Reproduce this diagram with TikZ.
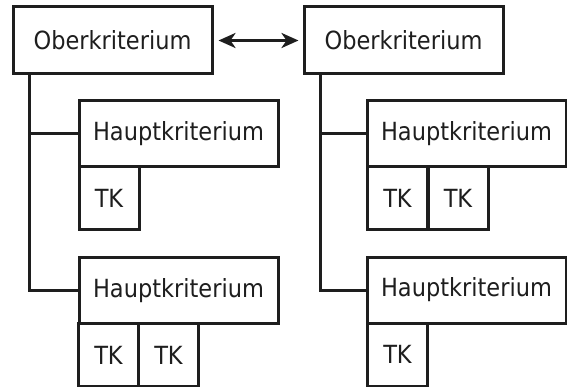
\documentclass[tikz,border=0pt]{standalone}
\usepackage{fontspec}
\setmainfont{DejaVu Sans Condensed}
\usetikzlibrary{arrows.meta}
\definecolor{ink}{HTML}{1E1E1E}
\begin{document}
\begin{tikzpicture}[x=1pt,y=-1pt,
  every node/.style={font=\fontsize{25}{30}\selectfont, text=ink},
  box/.style={draw=ink, line width=3pt, rectangle, inner sep=0pt, fill=white},
  ober/.style={box, minimum width=199pt, minimum height=67pt},
  haupt/.style={box, minimum width=199pt, minimum height=66pt},
  tk/.style={box, minimum width=60pt, minimum height=63pt},
  link/.style={draw=ink, line width=3pt}]
\useasboundingbox (0,0) rectangle (567,387);

% left hierarchy
\node[ober]  (lo)  at (112.5,40.5) {Oberkriterium};
\node[haupt] (lh1) at (178.5,134) {Hauptkriterium};
\node[tk]    (lt1) at (109,198.5) {TK};
\node[haupt] (lh2) at (178.5,290.5) {Hauptkriterium};
\node[tk]    (lt2) at (108.5,355) {TK};
\node[tk]    (lt3) at (168.5,355) {TK};

% right hierarchy
\node[ober]  (ro)  at (403.5,40.5) {Oberkriterium};
\node[haupt] (rh1) at (466.5,134) {Hauptkriterium};
\node[tk]    (rt1) at (397.5,198.5) {TK};
\node[tk]    (rt2) at (458,198.5) {TK};
\node[haupt] (rh2) at (466.5,290) {Hauptkriterium};
\node[tk]    (rt3) at (397.5,354.5) {TK};

% trunks and branches
\coordinate (lk) at ([xshift=18pt]lo.south west);
\coordinate (rk) at ([xshift=18pt]ro.south west);
\draw[link] (lk) |- (lh2.west);
\draw[link] (lk |- lh1.west) -- (lh1.west);
\draw[link] (rk) |- (rh2.west);
\draw[link] (rk |- rh1.west) -- (rh1.west);

% link between the two top boxes
\draw[link, {Stealth[length=17pt,width=15pt,inset=5pt]}-{Stealth[length=17pt,width=15pt,inset=5pt]}]
  ([xshift=5pt]lo.east) -- ([xshift=-4pt]ro.west);
\end{tikzpicture}
\end{document}
